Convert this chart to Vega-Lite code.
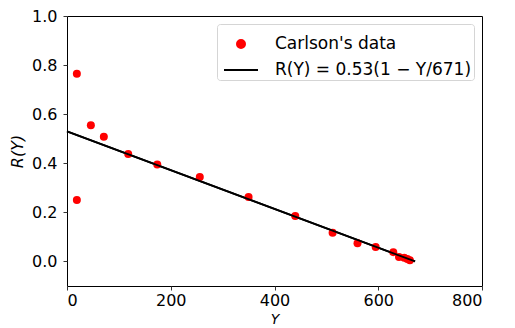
{
  "$schema": "https://vega.github.io/schema/vega-lite/v6.json",
  "width": 415,
  "height": 270,
  "autosize": {"type": "none"},
  "padding": {"left": 67, "top": 16, "right": 33, "bottom": 42},
  "config": {
    "font": "DejaVu Sans",
    "view": {"stroke": "black", "strokeWidth": 1},
    "axis": {
      "grid": false,
      "domain": false,
      "tickColor": "#333",
      "tickSize": 4,
      "labelFont": "DejaVu Sans",
      "labelFontSize": 16,
      "labelColor": "black",
      "labelPadding": 6,
      "titleFont": "DejaVu Sans",
      "titleFontSize": 16,
      "titleFontWeight": "normal",
      "titleFontStyle": "italic",
      "titleColor": "black"
    }
  },
  "datasets": {
    "pts": [
      {"Y": 19, "R": 0.765, "series": "Carlson's data"},
      {"Y": 19, "R": 0.25, "series": "Carlson's data"},
      {"Y": 46, "R": 0.555, "series": "Carlson's data"},
      {"Y": 71, "R": 0.508, "series": "Carlson's data"},
      {"Y": 118, "R": 0.438, "series": "Carlson's data"},
      {"Y": 174, "R": 0.395, "series": "Carlson's data"},
      {"Y": 256, "R": 0.344, "series": "Carlson's data"},
      {"Y": 350, "R": 0.263, "series": "Carlson's data"},
      {"Y": 440, "R": 0.185, "series": "Carlson's data"},
      {"Y": 512, "R": 0.117, "series": "Carlson's data"},
      {"Y": 560, "R": 0.074, "series": "Carlson's data"},
      {"Y": 595, "R": 0.059, "series": "Carlson's data"},
      {"Y": 629, "R": 0.038, "series": "Carlson's data"},
      {"Y": 640, "R": 0.018, "series": "Carlson's data"},
      {"Y": 650, "R": 0.015, "series": "Carlson's data"},
      {"Y": 656, "R": 0.01, "series": "Carlson's data"},
      {"Y": 661, "R": 0.005, "series": "Carlson's data"}
    ],
    "fit": [
      {"Y": 0, "R": 0.53, "series": "R(Y) = 0.53(1 − Y/671)"},
      {"Y": 671, "R": 0, "series": "R(Y) = 0.53(1 − Y/671)"}
    ]
  },
  "encoding": {
    "x": {
      "field": "Y", "type": "quantitative",
      "scale": {"domain": [0, 800], "nice": false, "zero": false},
      "axis": {"values": [0, 200, 400, 600, 800], "title": "Y", "labelPadding": 2, "titlePadding": 4, "titleFontSize": 14}
    },
    "y": {
      "field": "R", "type": "quantitative",
      "scale": {"domain": [-0.1, 1.0], "nice": false, "zero": false},
      "axis": {"values": [0, 0.2, 0.4, 0.6, 0.8, 1.0], "format": ".1f", "title": "R(Y)", "titlePadding": 6}
    }
  },
  "layer": [
    {
      "data": {"name": "fit"},
      "mark": {"type": "line", "strokeWidth": 1.8},
      "encoding": {
        "color": {
          "field": "series", "type": "nominal",
          "scale": {"domain": ["Carlson's data", "R(Y) = 0.53(1 − Y/671)"], "range": ["red", "black"]},
          "legend": {
            "title": null,
            "orient": "top-right",
            "offset": 8,
            "labelFontSize": 17,
            "labelFont": "DejaVu Sans",
            "labelColor": "black",
            "labelLimit": 0,
            "labelOffset": 16,
            "padding": 2,
            "symbolOffset": 4,
            "rowPadding": -1,
            "symbolSize": 1156,
            "strokeColor": "#d5d5d5",
            "fillColor": "white",
            "cornerRadius": 3,
            "symbolStrokeWidth": 2,
            "encode": {
              "symbols": {
                "update": {
                  "shape": {"signal": "datum.value === \"Carlson's data\" ? 'circle' : 'stroke'"},
                  "size": {"signal": "datum.value === \"Carlson's data\" ? 64 : 1156"},
                  "fill": {"signal": "datum.value === \"Carlson's data\" ? 'red' : 'transparent'"},
                  "stroke": {"signal": "datum.value === \"Carlson's data\" ? 'transparent' : 'black'"},
                  "strokeWidth": {"value": 2}
                }
              }
            }
          }
        }
      }
    },
    {
      "data": {"name": "pts"},
      "mark": {"type": "point", "filled": true, "size": 64, "opacity": 1},
      "encoding": {
        "color": {"field": "series", "type": "nominal"}
      }
    },
    {
      "data": {"name": "fit"},
      "mark": {"type": "line", "strokeWidth": 1.8},
      "encoding": {
        "color": {"field": "series", "type": "nominal"}
      }
    }
  ]
}
